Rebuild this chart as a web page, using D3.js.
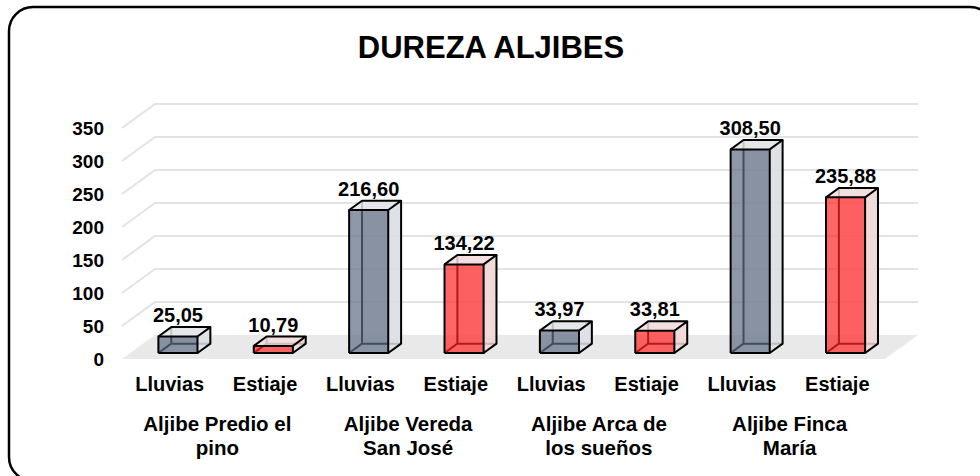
<!DOCTYPE html>
<html>
<head>
<meta charset="utf-8">
<script src="https://cdn.jsdelivr.net/npm/d3@7"></script>
<style>
  html, body { margin: 0; padding: 0; background: #fff; }
  svg { display: block; font-family: "Liberation Sans", Arial, sans-serif; }
</style>
</head>
<body>
<svg id="chart" width="980" height="476"></svg>
<script>
// Hardness of water in cisterns, rainy vs dry season
const title = "DUREZA ALJIBES";
const groupLines = [
  ["Aljibe Predio el", "pino"],
  ["Aljibe Vereda", "San José"],
  ["Aljibe Arca de", "los sueños"],
  ["Aljibe Finca", "María"]
];
const seasons = ["Lluvias", "Estiaje"];
const lluvias = [25.05, 216.60, 33.97, 308.50];
const estiaje = [10.79, 134.22, 33.81, 235.88];
const yTicks = [0, 50, 100, 150, 200, 250, 300, 350];

const svg = d3.select("#chart");

// oblique projection: depth z in [0,1] shifts right and up
const DX = 33, DY = 24;
const plotLeft = 122, plotRight = 885;

const rows = [];
groupLines.forEach((g, gi) => {
  rows.push({ key: gi + "-0", group: gi, season: seasons[0], value: lluvias[gi] });
  rows.push({ key: gi + "-1", group: gi, season: seasons[1], value: estiaje[gi] });
});

const x = d3.scaleBand().domain(rows.map(d => d.key)).range([plotLeft, plotRight]).padding(0);
const y = d3.scaleLinear().domain([0, 350]).range([359, 128]);
const P = (px, v, z) => [px + z * DX, y(v) - z * DY];
const line = d3.line();

const fmt = d3.formatLocale({ decimal: ",", thousands: ".", grouping: [3], currency: ["", ""] }).format(".2f");

// outer frame
svg.append("rect")
  .attr("x", 9).attr("y", 7).attr("width", 985).attr("height", 474)
  .attr("rx", 24).attr("ry", 24)
  .attr("fill", "#fff").attr("stroke", "#000").attr("stroke-width", 2.5);

// title
svg.append("text")
  .attr("x", 491).attr("y", 58)
  .attr("text-anchor", "middle")
  .attr("font-size", 31).attr("font-weight", "bold")
  .attr("fill", "#000")
  .text(title);

// gridlines on the side wall and back wall
const grid = svg.append("g");
yTicks.filter(t => t > 0).forEach(t => {
  grid.append("path")
    .attr("d", line([P(plotLeft, t, 0), P(plotLeft, t, 1), P(plotRight, t, 1)]))
    .attr("fill", "none").attr("stroke", "#e3e3e3").attr("stroke-width", 2);
});

// floor
svg.append("path")
  .attr("d", line([P(plotLeft, 0, 0), P(plotRight, 0, 0), P(plotRight, 0, 1), P(plotLeft, 0, 1)]) + "Z")
  .attr("fill", "#e9e9e9");

// y axis labels
svg.append("g").selectAll("text")
  .data(yTicks).join("text")
  .attr("x", 104).attr("y", d => y(d) + 2)
  .attr("text-anchor", "end").attr("dominant-baseline", "middle")
  .attr("font-size", 19).attr("font-weight", "bold").attr("fill", "#000")
  .text(d => d);

// 3D bars
const palette = {
  Lluvias: { front: "rgb(94,108,131)", side: "#dcdfe4", top: "#e3e5e9" },
  Estiaje: { front: "rgb(255,38,38)", side: "#f0d7d7", top: "#f3dddd" }
};
const zf = 0.25, zb = 0.64;
const barW = x.bandwidth() * 0.41;

const bars = svg.append("g");
rows.forEach(d => {
  const c = palette[d.season];
  const cx = x(d.key) + x.bandwidth() / 2;
  const x0 = cx - barW / 2, x1 = cx + barW / 2, v = d.value;
  const FLB = P(x0, 0, zf), FRB = P(x1, 0, zf), FLT = P(x0, v, zf), FRT = P(x1, v, zf);
  const BLB = P(x0, 0, zb), BRB = P(x1, 0, zb), BLT = P(x0, v, zb), BRT = P(x1, v, zb);
  const g = bars.append("g");
  const edge = (pts) => g.append("path").attr("d", line(pts))
    .attr("fill", "none").attr("stroke", "#000").attr("stroke-width", 2)
    .attr("stroke-linejoin", "round");
  const face = (pts, fill, op) => g.append("path").attr("d", line(pts) + "Z")
    .attr("fill", fill).attr("fill-opacity", op);

  // back faces and hidden edges
  face([BLB, BRB, BRT, BLT], c.side, 0.6);
  edge([BLT, BLB, BRB]);
  edge([FLB, BLB]);
  // translucent right side and top
  face([FRB, BRB, BRT, FRT], c.side, 0.85);
  face([FLT, FRT, BRT, BLT], c.top, 0.85);
  // front face
  face([FLB, FRB, FRT, FLT], c.front, 0.7);
  // visible outline
  edge([FLB, FRB, FRT, FLT, FLB]);
  edge([FLT, BLT, BRT, FRT]);
  edge([FRB, BRB, BRT]);

  // value label
  g.append("text")
    .attr("x", cx + zf * DX).attr("y", BLT[1] - 5)
    .attr("text-anchor", "middle")
    .attr("font-size", 20).attr("font-weight", "bold").attr("fill", "#000")
    .text(fmt(v));
});

// season labels
svg.append("g").selectAll("text")
  .data(rows).join("text")
  .attr("x", d => x(d.key) + x.bandwidth() / 2).attr("y", 391)
  .attr("text-anchor", "middle")
  .attr("font-size", 20).attr("font-weight", "bold").attr("fill", "#000")
  .text(d => d.season);

// cistern labels
const gl = svg.append("g");
groupLines.forEach((lines, gi) => {
  const cx = x(gi + "-1");
  const t = gl.append("text")
    .attr("text-anchor", "middle")
    .attr("font-size", 20.5).attr("font-weight", "bold").attr("fill", "#000");
  lines.forEach((s, li) => {
    t.append("tspan").attr("x", cx).attr("y", 431 + li * 24).text(s);
  });
});
</script>
</body>
</html>
